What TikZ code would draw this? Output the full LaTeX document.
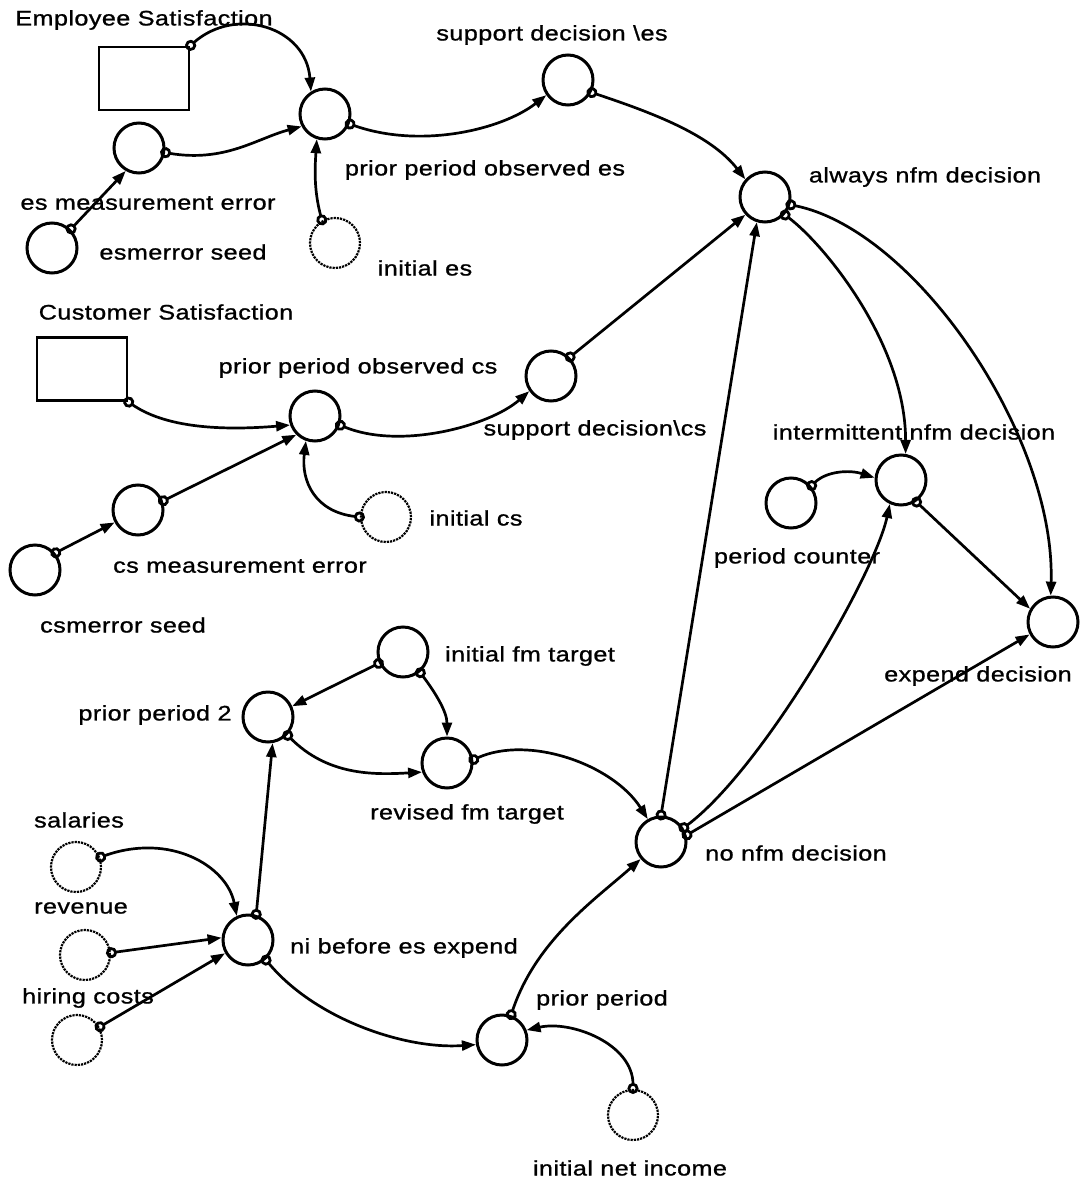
\documentclass[tikz,border=0pt]{standalone}
\usepackage{fontspec}
\setmainfont{Liberation Sans}[FakeStretch=1.2,LetterSpace=2,FakeBold=1]
\usetikzlibrary{arrows.meta}
\begin{document}
\begin{tikzpicture}[x=1pt,y=-1pt,
  aux/.style={circle,draw,line width=3pt,minimum size=50pt,inner sep=0pt},
  auxdot/.style={circle,draw,densely dotted,line width=2.2pt,minimum size=50pt,inner sep=0pt},
  stock/.style={rectangle,draw,line width=2.6pt,minimum width=90pt,minimum height=63pt,inner sep=0pt},
  lbl/.style={inner sep=0pt,font=\fontsize{21}{25}\selectfont},
  conn/.style={line width=2.7pt,shorten <=-5pt,
    arrows={Circle[open,length=11pt,width=11pt,line width=2.8pt]-Triangle[length=14pt,width=10pt]}}]
\useasboundingbox (0,0) rectangle (1082,1188);

% stocks
\node[stock] (esbox) at (144,78.5) {};
\node[stock] (csbox) at (82,369) {};

% converters
\node[aux] (esme) at (139,148) {};
\node[aux] (esseed) at (52,248) {};
\node[aux] (ppoes) at (325,114) {};
\node[auxdot] (inites) at (335,243) {};
\node[aux] (sdes) at (568,80) {};
\node[aux] (always) at (765,197) {};
\node[aux] (ppocs) at (315,416) {};
\node[aux] (sdcs) at (551,376) {};
\node[aux] (csme) at (138,510) {};
\node[aux] (csseed) at (35,570) {};
\node[auxdot] (initcs) at (386,517) {};
\node[aux] (inter) at (901,480) {};
\node[aux] (pcount) at (791,503) {};
\node[aux] (expend) at (1053,622) {};
\node[aux] (nonfm) at (661,842) {};
\node[aux] (initfm) at (403,652) {};
\node[aux] (pp2) at (268,717) {};
\node[aux] (revfm) at (447,763) {};
\node[aux] (ni) at (248,940) {};
\node[auxdot] (salaries) at (76,867) {};
\node[auxdot] (revenue) at (85,955) {};
\node[auxdot] (hiring) at (77,1040) {};
\node[aux] (pp) at (502,1040) {};
\node[auxdot] (initni) at (633,1115) {};

% labels
\node[lbl] (l-esbox) at (144,20) {Employee Satisfaction};
\node[lbl] (l-sdes) at (552,35) {support decision \textbackslash es};
\node[lbl] (l-esme) at (148,203) {es measurement error};
\node[lbl] (l-esseed) at (183,252) {esmerror seed};
\node[lbl] (l-ppoes) at (485,170) {prior period observed es};
\node[lbl] (l-inites) at (425,268) {initial es};
\node[lbl] (l-always) at (925,177) {always nfm decision};
\node[lbl] (l-csbox) at (166,312) {Customer Satisfaction};
\node[lbl] (l-ppocs) at (358,368) {prior period observed cs};
\node[lbl] (l-sdcs) at (595,430) {support decision\textbackslash cs};
\node[lbl] (l-initcs) at (476,518) {initial cs};
\node[lbl] (l-csme) at (240,566) {cs measurement error};
\node[lbl] (l-csseed) at (123,625) {csmerror seed};
\node[lbl] (l-inter) at (914,432) {intermittent nfm decision};
\node[lbl] (l-pcount) at (797,558) {period counter};
\node[lbl] (l-expend) at (978,676) {expend decision};
\node[lbl] (l-initfm) at (530,656) {initial fm target};
\node[lbl] (l-pp2) at (155,715) {prior period 2};
\node[lbl] (l-revfm) at (467,814) {revised fm target};
\node[lbl] (l-nonfm) at (796,853) {no nfm decision};
\node[lbl] (l-salaries) at (79,820) {salaries};
\node[lbl] (l-revenue) at (81,908) {revenue};
\node[lbl] (l-hiring) at (88,998) {hiring costs};
\node[lbl] (l-ni) at (404,948) {ni before es expend};
\node[lbl] (l-pp) at (602,1000) {prior period};
\node[lbl] (l-initni) at (630,1168) {initial net income};

% connectors: employee satisfaction block
\draw[conn] (esbox.north east) .. controls +(45,-40) and +(-5,-65) .. (ppoes.122);
\draw[conn] (esme.-10) .. controls +(60,10) and +(-45,12) .. (ppoes.208);
\draw[conn] (esseed.45) -- (esme.240);
\draw[conn] (inites.120) .. controls +(-8,-30) and +(-2,30) .. (ppoes.252);
\draw[conn] (ppoes.-22) .. controls +(70,25) and +(-45,35) .. (sdes.215);
\draw[conn] (sdes.-28) .. controls +(60,20) and +(-35,-45) .. (always.138);

% connectors: customer satisfaction block
\draw[conn] (csbox.south east) .. controls +(40,28) and +(-60,5) .. (ppocs.200);
\draw[conn] (csme.20) -- (ppocs.225);
\draw[conn] (csseed.40) -- (csme.208);
\draw[conn] (initcs.180) .. controls +(-45,-5) and +(-5,40) .. (ppocs.250);
\draw[conn] (ppocs.-20) .. controls +(60,25) and +(-40,35) .. (sdcs.215);
\draw[conn] (sdcs.45) -- (always.222);

% connectors: decisions
\draw[conn] (always.-42) .. controls +(40,30) and +(0,-110) .. (inter.80);
\draw[conn] (always.-17) .. controls +(125,25) and +(5,-160) .. (expend.95);
\draw[conn] (pcount.40) .. controls +(15,-15) and +(-25,-8) .. (inter.175);
\draw[conn] (inter.-55) -- (expend.150);
\draw[conn] (nonfm.90) -- (always.252);
\draw[conn] (nonfm.32) .. controls +(80,-60) and +(-15,70) .. (inter.245);
\draw[conn] (nonfm.15) -- (expend.208);

% connectors: financial block
\draw[conn] (revfm.7) .. controls +(55,-25) and +(-35,-55) .. (nonfm.120);
\draw[conn] (initfm.205) -- (pp2.24);
\draw[conn] (initfm.-50) .. controls +(15,20) and +(0,-25) .. (revfm.90);
\draw[conn] (pp2.-43) .. controls +(40,40) and +(-50,3) .. (revfm.200);
\draw[conn] (ni.72) -- (pp2.-80);
\draw[conn] (salaries.22) .. controls +(70,-25) and +(-10,-50) .. (ni.115);
\draw[conn] (revenue.5) -- (ni.175);
\draw[conn] (hiring.30) -- (ni.210);
\draw[conn] (ni.-48) .. controls +(50,60) and +(-70,5) .. (pp.190);
\draw[conn] (pp.70) .. controls +(25,-75) and +(-45,40) .. (nonfm.220);
\draw[conn] (initni.90) .. controls +(0,-45) and +(45,-10) .. (pp.22);
\end{tikzpicture}
\end{document}
